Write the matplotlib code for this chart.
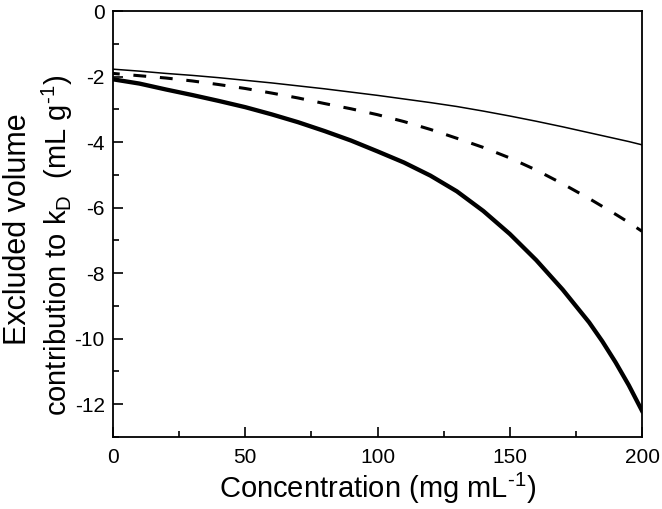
import matplotlib
matplotlib.use("Agg")
import matplotlib.pyplot as plt
from matplotlib.ticker import MultipleLocator

plt.rcParams["font.family"] = ["Liberation Sans", "DejaVu Sans"]
plt.rcParams["mathtext.fontset"] = "custom"
plt.rcParams["mathtext.rm"] = "Liberation Sans"
plt.rcParams["mathtext.it"] = "Liberation Sans"
plt.rcParams["axes.unicode_minus"] = False

# concentration (mg/mL)
conc = [0, 10, 20, 30, 40, 50, 60, 70, 80, 90, 100,
        110, 120, 130, 140, 150, 160, 170, 180, 185, 190, 195, 200]

# excluded volume contribution to kD (mL/g)
thin = [-1.77, -1.83, -1.90, -1.96, -2.03, -2.11, -2.19, -2.28, -2.37, -2.47, -2.57,
        -2.68, -2.79, -2.91, -3.05, -3.20, -3.36, -3.53, -3.71, -3.80, -3.89, -3.98, -4.08]
dashed = [-1.90, -1.97, -2.04, -2.13, -2.24, -2.36, -2.50, -2.65, -2.82, -2.98, -3.16,
          -3.37, -3.61, -3.88, -4.16, -4.48, -4.85, -5.27, -5.72, -5.96, -6.20, -6.45, -6.72]
thick = [-2.08, -2.21, -2.39, -2.56, -2.74, -2.93, -3.15, -3.39, -3.66, -3.95, -4.28,
         -4.62, -5.02, -5.50, -6.10, -6.80, -7.60, -8.50, -9.50, -10.08, -10.72, -11.42, -12.20]

fig = plt.figure(figsize=(6.62, 5.09), dpi=100)
ax = fig.add_axes([0.1707, 0.1415, 0.7991, 0.8365])

ax.plot(conc, thin, color="black", lw=1.1)
ax.plot(conc, dashed, color="black", lw=2.2, linestyle=(2.0, (4.2, 4.5)))
ax.plot(conc, thick, color="black", lw=3.1)

ax.set_xlim(0, 200)
ax.set_ylim(-13, 0)
ax.xaxis.set_major_locator(MultipleLocator(50))
ax.xaxis.set_minor_locator(MultipleLocator(25))
ax.yaxis.set_major_locator(MultipleLocator(2))
ax.yaxis.set_minor_locator(MultipleLocator(1))
ax.tick_params(which="both", direction="in", top=False, right=False,
               width=1.2, labelsize=15)
ax.tick_params(axis="x", pad=8)
ax.tick_params(axis="y", pad=6)
ax.tick_params(which="major", length=7)
ax.tick_params(which="minor", length=4)
for sp in ax.spines.values():
    sp.set_linewidth(1.3)

ax.set_xlabel("Concentration (mg mL$^{\\text{-1}}$)", fontsize=21, labelpad=3)

# two-line y label, each line placed on its own baseline
fig.text(0.0400, 0.5501, "Excluded volume", rotation=90, fontsize=22,
         ha="center", va="baseline", rotation_mode="anchor")
fig.text(0.1010, 0.5187, "contribution to k$_{\\text{D}}$  (mL g$^{\\text{-1}}$)",
         rotation=90, fontsize=21, ha="center", va="baseline", rotation_mode="anchor")

fig.savefig("out.png", dpi=100)
